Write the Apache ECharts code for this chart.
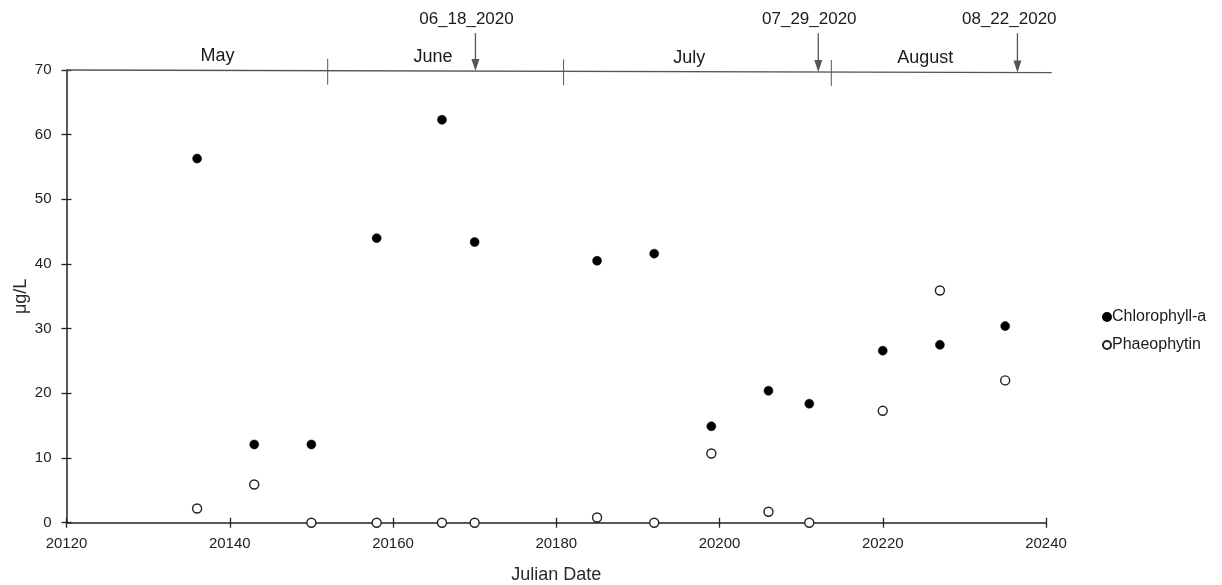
<!DOCTYPE html>
<html><head><meta charset="utf-8">
<script src="https://cdn.jsdelivr.net/npm/echarts@6/dist/echarts.min.js"></script>
<style>html,body{margin:0;padding:0;background:#fff}#c{width:1222px;height:585px}</style>
</head><body><div id="c"></div>
<script>
const julianDates = [20136, 20143, 20150, 20158, 20166, 20170, 20185, 20192, 20199, 20206, 20211, 20220, 20227, 20235];
const chlorophyllA = [56.3, 12.1, 12.1, 44.0, 62.3, 43.4, 40.5, 41.6, 14.9, 20.4, 18.4, 26.6, 27.5, 30.4];
const phaeophytin  = [2.2, 5.9, 0, 0, 0, 0, 0.8, 0, 10.7, 1.7, 0, 17.3, 35.9, 22.0];
const monthNames = ['May', 'June', 'July', 'August'];
const monthLabelX = [20138.5, 20164.9, 20196.3, 20225.2];
const monthDividerX = [20152.0, 20180.9, 20213.7];
const eventLabels = ['06_18_2020', '07_29_2020', '08_22_2020'];
const eventLabelX = [20169.0, 20211.0, 20235.5];
const eventArrowX = [20170.1, 20212.1, 20236.5];
const xTicks = [20120, 20140, 20160, 20180, 20200, 20220, 20240];
const yTicks = [0, 10, 20, 30, 40, 50, 60, 70];

const chl = julianDates.map((d, i) => [d, chlorophyllA[i]]);
const pha = julianDates.map((d, i) => [d, phaeophytin[i]]);

const tickFont = 'Liberation Sans, Arial, sans-serif';
const font = 'Liberation Sans, Arial, sans-serif';
const ink = '#1a1a1a';
const gray = '#555';

function renderAnno(params, api) {
  const children = [];
  const lineLeft = api.coord([20120, 70]);
  const lineRight = api.coord([20240.7, 69.6]);
  children.push({type: 'line', shape: {x1: lineLeft[0], y1: lineLeft[1], x2: lineRight[0], y2: lineRight[1]},
    style: {stroke: gray, lineWidth: 1.3}});
  const slope = (lineRight[1] - lineLeft[1]) / (lineRight[0] - lineLeft[0]);
  const yAt = x => lineLeft[1] + (x - lineLeft[0]) * slope;
  monthDividerX.forEach(x => {
    const p = api.coord([x, 70]);
    const yl = yAt(p[0]);
    children.push({type: 'line', shape: {x1: p[0], y1: yl - 12, x2: p[0], y2: yl + 14}, style: {stroke: gray, lineWidth: 1}});
  });
  monthNames.forEach((m, i) => {
    const p = api.coord([monthLabelX[i], 70]);
    children.push({type: 'text', x: p[0], y: yAt(p[0]) - 5, style: {text: m, fill: ink, font: '18px ' + font, textAlign: 'center', textVerticalAlign: 'bottom'}});
  });
  eventArrowX.forEach((x, i) => {
    const p = api.coord([x, 75.7]);
    const yl = yAt(p[0]);
    children.push({type: 'line', shape: {x1: p[0], y1: p[1], x2: p[0], y2: yl - 10}, style: {stroke: gray, lineWidth: 1.3}});
    children.push({type: 'polygon', shape: {points: [[p[0] - 4, yl - 12], [p[0] + 4, yl - 12], [p[0], yl]]}, style: {fill: gray}});
    const q = api.coord([eventLabelX[i], 77.9]);
    children.push({type: 'text', x: q[0], y: q[1], style: {text: eventLabels[i], fill: ink, font: '17px ' + font, textAlign: 'center', textVerticalAlign: 'middle'}});
  });
  return {type: 'group', children};
}

const chart = echarts.init(document.getElementById('c'), null, {renderer: 'canvas'});
chart.setOption({
  animation: false,
  backgroundColor: '#fff',
  grid: {left: 66.5, right: 176, top: 70, bottom: 62.3, containLabel: false, outerBoundsMode: 'none'},
  legend: {
    orient: 'vertical', left: 1097, top: 304, itemGap: 12, itemWidth: 8, itemHeight: 8,
    data: ['Chlorophyll-a', 'Phaeophytin'],
    textStyle: {color: ink, fontSize: 16, fontFamily: font, padding: [0, 0, 0, -4]}
  },
  xAxis: [{
    type: 'value', min: 20120, max: 20240, interval: 20,
    name: 'Julian Date', nameLocation: 'middle', nameGap: 43,
    nameTextStyle: {color: '#2a2a2a', fontSize: 18, fontFamily: font},
    axisLine: {show: true, onZero: false, lineStyle: {color: '#222', width: 1.5}},
    axisTick: {show: true, inside: false, length: 5, lineStyle: {color: '#222', width: 1.3}},
    axisLabel: {color: '#222', fontSize: 15, fontFamily: tickFont, margin: 14, formatter: v => xTicks.includes(v) ? String(v) : ''},
    splitLine: {show: false}
  }, {
    type: 'value', min: 20120, max: 20240, interval: 20, position: 'bottom',
    axisLine: {show: false}, axisLabel: {show: false}, splitLine: {show: false},
    axisTick: {show: true, inside: true, length: 5, lineStyle: {color: '#222', width: 1.3}}
  }],
  yAxis: [{
    type: 'value', min: 0, max: 70, interval: 10,
    name: 'μg/L', nameLocation: 'middle', nameGap: 36, nameRotate: 90, nameMoveOverlap: false,
    nameTextStyle: {color: '#2a2a2a', fontSize: 18, fontFamily: font},
    axisLine: {show: true, onZero: false, lineStyle: {color: '#222', width: 1.5}},
    axisTick: {show: true, inside: false, length: 5, lineStyle: {color: '#222', width: 1.3}},
    axisLabel: {color: '#222', fontSize: 15, fontFamily: tickFont, margin: 15, formatter: v => yTicks.includes(v) ? String(v) : ''},
    splitLine: {show: false}
  }, {
    type: 'value', min: 0, max: 70, interval: 10, position: 'left',
    axisLine: {show: false}, axisLabel: {show: false}, splitLine: {show: false},
    axisTick: {show: true, inside: true, length: 5, lineStyle: {color: '#222', width: 1.3}}
  }],
  series: [{
    name: 'Chlorophyll-a', type: 'scatter', data: chl, symbol: 'circle', symbolSize: 9, clip: false,
    itemStyle: {color: '#000', borderColor: '#000', borderWidth: 0.5, opacity: 1}, z: 3
  }, {
    name: 'Phaeophytin', type: 'scatter', data: pha, symbol: 'circle', symbolSize: 9, clip: false,
    itemStyle: {color: '#fff', borderColor: '#222', borderWidth: 1.4, opacity: 1}, z: 4
  }, {
    name: 'annotations', type: 'custom', data: [[20120, 70]], clip: false, silent: true, z: 2,
    renderItem: renderAnno
  }]
});
</script></body></html>
